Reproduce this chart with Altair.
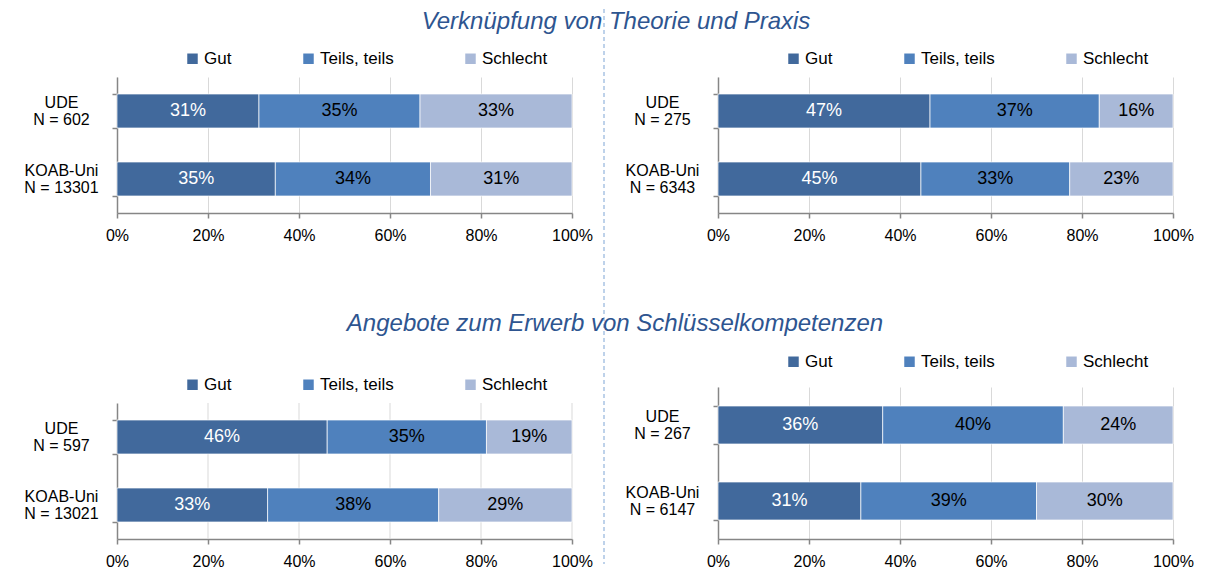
import altair as alt
import pandas as pd

# ---------------- data ----------------
categories = ["Gut", "Teils, teils", "Schlecht"]
colors = ["#41699C", "#4F81BD", "#A9B9D8"]
groups = ["UDE", "KOAB-Uni"]
titles = ["Verknüpfung von Theorie und Praxis",
          "Angebote zum Erwerb von Schlüsselkompetenzen"]
x_ticks = [0, 0.2, 0.4, 0.6, 0.8, 1.0]

# Verknüpfung von Theorie und Praxis (left / right)
tl_n = [602, 13301]
tl_ude = [31.2, 35.4, 33.4]
tl_koab = [34.8, 34.1, 31.1]

tr_n = [275, 6343]
tr_ude = [46.6, 37.2, 16.2]
tr_koab = [44.6, 32.7, 22.7]

# Angebote zum Erwerb von Schlüsselkompetenzen (left / right)
bl_n = [597, 13021]
bl_ude = [46.2, 35.0, 18.8]
bl_koab = [33.1, 37.6, 29.3]

br_n = [267, 6147]
br_ude = [36.2, 39.7, 24.1]
br_koab = [31.4, 38.6, 30.0]

FONT = "Liberation Sans"


def make_df(ns, ude, koab):
    rows = []
    for g, n, vals in zip(groups, ns, [ude, koab]):
        lab = f"{g}|N = {n}"
        for j, (c, v) in enumerate(zip(categories, vals)):
            rows.append({"label": lab, "cat": c, "value": v / 100.0, "ord": j})
    return pd.DataFrame(rows)


def panel(df, height, legend_y, y_range=None, extras=None):
    order = list(dict.fromkeys(df["label"]))
    sc_args = dict(paddingInner=0.5, paddingOuter=0.25)
    if y_range is not None:
        sc_args["range"] = y_range
    yscale = alt.Scale(**sc_args)
    yaxis = alt.Axis(title=None, labelExpr="split(datum.label, '|')",
                     labelAlign="center", labelPadding=51, labelLineHeight=17,
                     labelOffset=-9,
                     labelFontSize=16, labelFont=FONT, labelColor="#000000",
                     tickBand="extent", tickSize=5, grid=False)
    xaxis = alt.Axis(title=None, format=".0%", values=x_ticks, tickSize=5,
                     labelFontSize=16, labelFont=FONT, labelColor="#000000",
                     labelFlush=False,
                     labelPadding=9, grid=y_range is None)
    xscale = alt.Scale(domain=[0, 1], nice=False)

    bars = alt.Chart(df).mark_bar(stroke="white", strokeWidth=0.7).encode(
        x=alt.X("value:Q", stack="zero", scale=xscale, axis=xaxis),
        y=alt.Y("label:N", sort=order, scale=yscale, axis=yaxis),
        color=alt.Color("cat:N", sort=categories,
                        scale=alt.Scale(domain=categories, range=colors),
                        legend=alt.Legend(title=None, orient="none", legendX=67,
                                          legendY=legend_y, direction="horizontal",
                                          symbolType="square", symbolSize=110,
                                          symbolStrokeWidth=0, labelFontSize=17,
                                          labelOffset=3, columnPadding=68,
                                          labelFont=FONT, labelColor="#000000")),
        order=alt.Order("ord:Q"),
    )
    text = alt.Chart(df).transform_window(
        cum="sum(value)", groupby=["label"], sort=[alt.SortField("ord")]
    ).transform_calculate(mid="datum.cum - datum.value / 2").mark_text(
        font=FONT, fontSize=18
    ).encode(
        x=alt.X("mid:Q", scale=xscale, axis=xaxis),
        y=alt.Y("label:N", sort=order, scale=yscale, axis=yaxis),
        text=alt.Text("value:Q", format=".0%"),
        color=alt.condition(alt.datum.cat == "Gut", alt.value("#FFFFFF"), alt.value("#000000")),
    )
    layers = []
    if y_range is not None:
        grid = alt.Chart(pd.DataFrame({"g": x_ticks[1:]})).mark_rule(
            color="#D9D9D9", strokeWidth=1
        ).encode(x=alt.X("g:Q", scale=xscale, axis=xaxis),
                 y=alt.value(y_range[0]), y2=alt.value(y_range[1]))
        layers.append(grid)
    layers += [bars, text]
    if extras:
        layers += extras
    return alt.layer(*layers).properties(width=455, height=height)


# decorations: section titles and dashed separator (attached to first panel)
t1 = alt.Chart(pd.DataFrame({"t": [titles[0]]})).mark_text(
    font=FONT, fontSize=24, fontStyle="italic", color="#2E5590", align="center", baseline="middle"
).encode(text="t:N", x=alt.value(499), y=alt.value(-55))
t2 = alt.Chart(pd.DataFrame({"t": [titles[1]]})).mark_text(
    font=FONT, fontSize=24, fontStyle="italic", color="#2E5590", align="center", baseline="middle"
).encode(text="t:N", x=alt.value(498), y=alt.value(247))
sep = alt.Chart(pd.DataFrame({"s": [0]})).mark_rule(
    color="#A9C4E4", strokeDash=[4, 3], strokeWidth=1.5
).encode(x=alt.value(487), y=alt.value(-68), y2=alt.value(487))

p_tl = panel(make_df(tl_n, tl_ude, tl_koab), 136, -27, extras=[sep, t1, t2])
p_tr = panel(make_df(tr_n, tr_ude, tr_koab), 136, -27)
p_bl = panel(make_df(bl_n, bl_ude, bl_koab), 152, -11, y_range=[16, 152])
p_br = panel(make_df(br_n, br_ude, br_koab), 152, -34)

row1 = alt.hconcat(p_tl, p_tr, spacing=146, bounds="flush").resolve_scale(
    color="independent").resolve_legend(color="independent")
row2 = alt.hconcat(p_bl, p_br, spacing=146, bounds="flush").resolve_scale(
    color="independent").resolve_legend(color="independent")

chart = alt.vconcat(row1, row2, spacing=310, bounds="flush").resolve_scale(
    color="independent").resolve_legend(color="independent").properties(
    padding={"left": 15, "top": 0, "right": 0, "bottom": 0},
    background="white"
).configure_view(strokeWidth=0).configure_axis(
    labelFont=FONT, labelFontSize=16, labelColor="#000000",
    domainColor="#868686", tickColor="#868686", gridColor="#D9D9D9",
    domainWidth=1.5, tickWidth=1.5
)

chart.save("out.html", embed_options={"renderer": "svg", "actions": False})
